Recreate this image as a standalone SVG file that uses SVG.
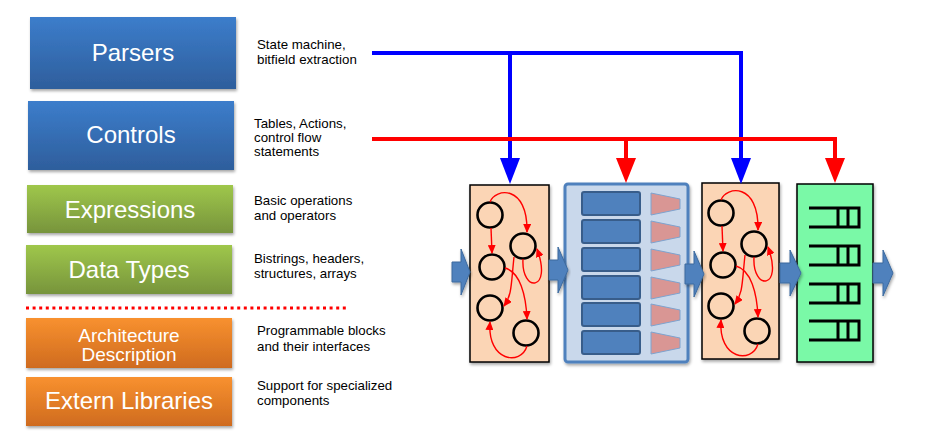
<svg xmlns="http://www.w3.org/2000/svg" xmlns:xlink="http://www.w3.org/1999/xlink" width="941" height="445" viewBox="0 0 941 445">
<defs>
<linearGradient id="gBlue" x1="0" y1="0" x2="0" y2="1"><stop offset="0" stop-color="#3c7dcb"/><stop offset="1" stop-color="#2e5e9c"/></linearGradient>
<linearGradient id="gGreen" x1="0" y1="0" x2="0" y2="1"><stop offset="0" stop-color="#9fc74b"/><stop offset="1" stop-color="#77943c"/></linearGradient>
<linearGradient id="gOrange" x1="0" y1="0" x2="0" y2="1"><stop offset="0" stop-color="#f8912f"/><stop offset="1" stop-color="#cf6b1f"/></linearGradient>
<filter id="sh" x="-10%" y="-10%" width="125%" height="130%"><feDropShadow dx="1" dy="2" stdDeviation="1.5" flood-color="#000" flood-opacity="0.35"/></filter>
<marker id="ra" markerUnits="userSpaceOnUse" markerWidth="9" markerHeight="8" refX="8" refY="4" orient="auto"><path d="M0,0 L9,4 L0,8 z" fill="#ff0000"/></marker>
<g id="fsm">
<circle cx="490" cy="215" r="12.5"/>
<circle cx="523" cy="246" r="12.5"/>
<circle cx="492" cy="267" r="12.5"/>
<circle cx="490" cy="308" r="12.5"/>
<circle cx="526" cy="333" r="12.5"/>
<path class="fa" d="M490,202 C495,188 528,184 527,232"/>
<path class="fa" d="M491,228 L492,253"/>
<path class="fa" d="M523,259 C521,293 553,292 537,249"/>
<path class="fa" d="M514,257 C511,285 512,295 504,306"/>
<path class="fa" d="M505,268 C520,272 526,295 527,319"/>
<path class="fa" d="M527,346 C521,366 487,362 490,322"/>
</g>
</defs>
<style>
.lbox{filter:url(#sh)}
.lt{font-family:"Liberation Sans",Arial,sans-serif;fill:#ffffff;text-anchor:middle}
.dt{font-family:"Liberation Sans",Arial,sans-serif;fill:#000000;font-size:13.3px}
#fsm circle{fill:none;stroke:#000;stroke-width:2.6}
.fa{fill:none;stroke:#ff0000;stroke-width:1.4;marker-end:url(#ra)}
.barrow{fill:#4f81bd;stroke:#3d6a9e;stroke-width:1;filter:url(#sh)}
.cell{fill:#4f81bd;stroke:#385d8a;stroke-width:2}
.trap{fill:#d99694;stroke:#7ea3cf;stroke-width:1}
.q{fill:none;stroke:#000;stroke-width:3}
</style>

<g id="parsers"><rect class="lbox" x="30" y="17" width="206" height="72" fill="url(#gBlue)"/><text class="lt" x="133" y="61" font-size="24">Parsers</text><text class="dt" x="257" y="49">State machine,</text><text class="dt" x="257" y="64">bitfield extraction</text></g>
<g id="controls"><rect class="lbox" x="28" y="101" width="206" height="69" fill="url(#gBlue)"/><text class="lt" x="131" y="143" font-size="24">Controls</text><text class="dt" x="254" y="128" font-size="12.5">Tables, Actions,</text><text class="dt" x="254" y="142" font-size="12.5">control flow</text><text class="dt" x="254" y="156" font-size="12.5">statements</text></g>
<g id="expressions"><rect class="lbox" x="27" y="185" width="206" height="48" fill="url(#gGreen)"/><text class="lt" x="130" y="218" font-size="24">Expressions</text><text class="dt" x="254" y="205">Basic operations</text><text class="dt" x="254" y="220">and operators</text></g>
<g id="datatypes"><rect class="lbox" x="26" y="245" width="206" height="49" fill="url(#gGreen)"/><text class="lt" x="129" y="278" font-size="24">Data Types</text><text class="dt" x="254" y="263">Bistrings, headers,</text><text class="dt" x="254" y="278">structures, arrays</text></g>
<g id="separator"><line x1="26" y1="308" x2="348" y2="308" stroke="#ff0000" stroke-width="3" stroke-dasharray="3 3.6"/></g>
<g id="arch"><rect class="lbox" x="26" y="318" width="206" height="50" fill="url(#gOrange)"/><text class="lt" x="129" y="342" font-size="19">Architecture</text><text class="lt" x="129" y="361" font-size="19">Description</text><text class="dt" x="257" y="335">Programmable blocks</text><text class="dt" x="257" y="351">and their interfaces</text></g>
<g id="extern"><rect class="lbox" x="26" y="377" width="206" height="49" fill="url(#gOrange)"/><text class="lt" x="129" y="409" font-size="24">Extern Libraries</text><text class="dt" x="257" y="390" font-size="12">Support for specialized</text><text class="dt" x="257" y="405" font-size="12">components</text></g>

<g id="block1"><rect x="470" y="185" width="79" height="177" fill="#fbd5b5" stroke="#000" stroke-width="1.5" filter="url(#sh)"/><use xlink:href="#fsm"/></g>
<g id="block2"><rect x="565" y="184" width="123" height="178" rx="3" fill="#c9d8eb" stroke="#4f81bd" stroke-width="3" filter="url(#sh)"/>
<rect class="cell" x="582" y="192" width="58" height="23" rx="2"/><rect class="cell" x="582" y="220" width="58" height="23" rx="2"/><rect class="cell" x="582" y="248" width="58" height="23" rx="2"/><rect class="cell" x="582" y="276" width="58" height="23" rx="2"/><rect class="cell" x="582" y="303" width="58" height="23" rx="2"/><rect class="cell" x="582" y="331" width="58" height="23" rx="2"/>
<path class="trap" d="M651,193 L680,199 L680,209 L651,215 Z"/><path class="trap" d="M651,221 L680,227 L680,237 L651,243 Z"/><path class="trap" d="M651,249 L680,255 L680,265 L651,271 Z"/><path class="trap" d="M651,277 L680,283 L680,293 L651,299 Z"/><path class="trap" d="M651,304 L680,310 L680,320 L651,326 Z"/><path class="trap" d="M651,332 L680,338 L680,348 L651,354 Z"/>
</g>
<g id="block3"><rect x="702" y="183" width="77" height="176" fill="#fbd5b5" stroke="#000" stroke-width="1.5" filter="url(#sh)"/><use xlink:href="#fsm" transform="translate(231,-2)"/></g>
<g id="block4"><rect x="797" y="184" width="76" height="178" fill="#7af9a7" stroke="#000" stroke-width="1.5" filter="url(#sh)"/>
<path class="q" d="M809,208 H859 V227 H809 M838,208 V227 M848,208 V227"/>
<path class="q" d="M809,246 H859 V265 H809 M838,246 V265 M848,246 V265"/>
<path class="q" d="M809,284 H859 V303 H809 M838,284 V303 M848,284 V303"/>
<path class="q" d="M809,321 H859 V340 H809 M838,321 V340 M848,321 V340"/>
</g>

<g id="connectors">
<path class="barrow" d="M452,262 H461 V249 L470,272 L461,295 V282 H452 Z"/>
<path class="barrow" d="M549,260 H558 V247 L568,270 L558,293 V280 H549 Z"/>
<path class="barrow" d="M685,264 H694 V251 L704,274 L694,297 V284 H685 Z"/>
<path class="barrow" d="M780,263 H790 V250 L801,273 L790,296 V283 H780 Z"/>
<path class="barrow" d="M873,263 H883 V250 L893,273 L883,296 V283 H873 Z"/>
<path d="M372,53 H741 V160 M510,53 V160" fill="none" stroke="#0000ff" stroke-width="4"/>
<polygon points="500,158 520,158 510,184" fill="#0000ff"/>
<polygon points="731,158 751,158 741,184" fill="#0000ff"/>
<path d="M372,139 H835 V160 M626,139 V160" fill="none" stroke="#ff0000" stroke-width="4"/>
<polygon points="616,158 636,158 626,183" fill="#ff0000"/>
<polygon points="825,158 845,158 835,183" fill="#ff0000"/>
</g>
</svg>
